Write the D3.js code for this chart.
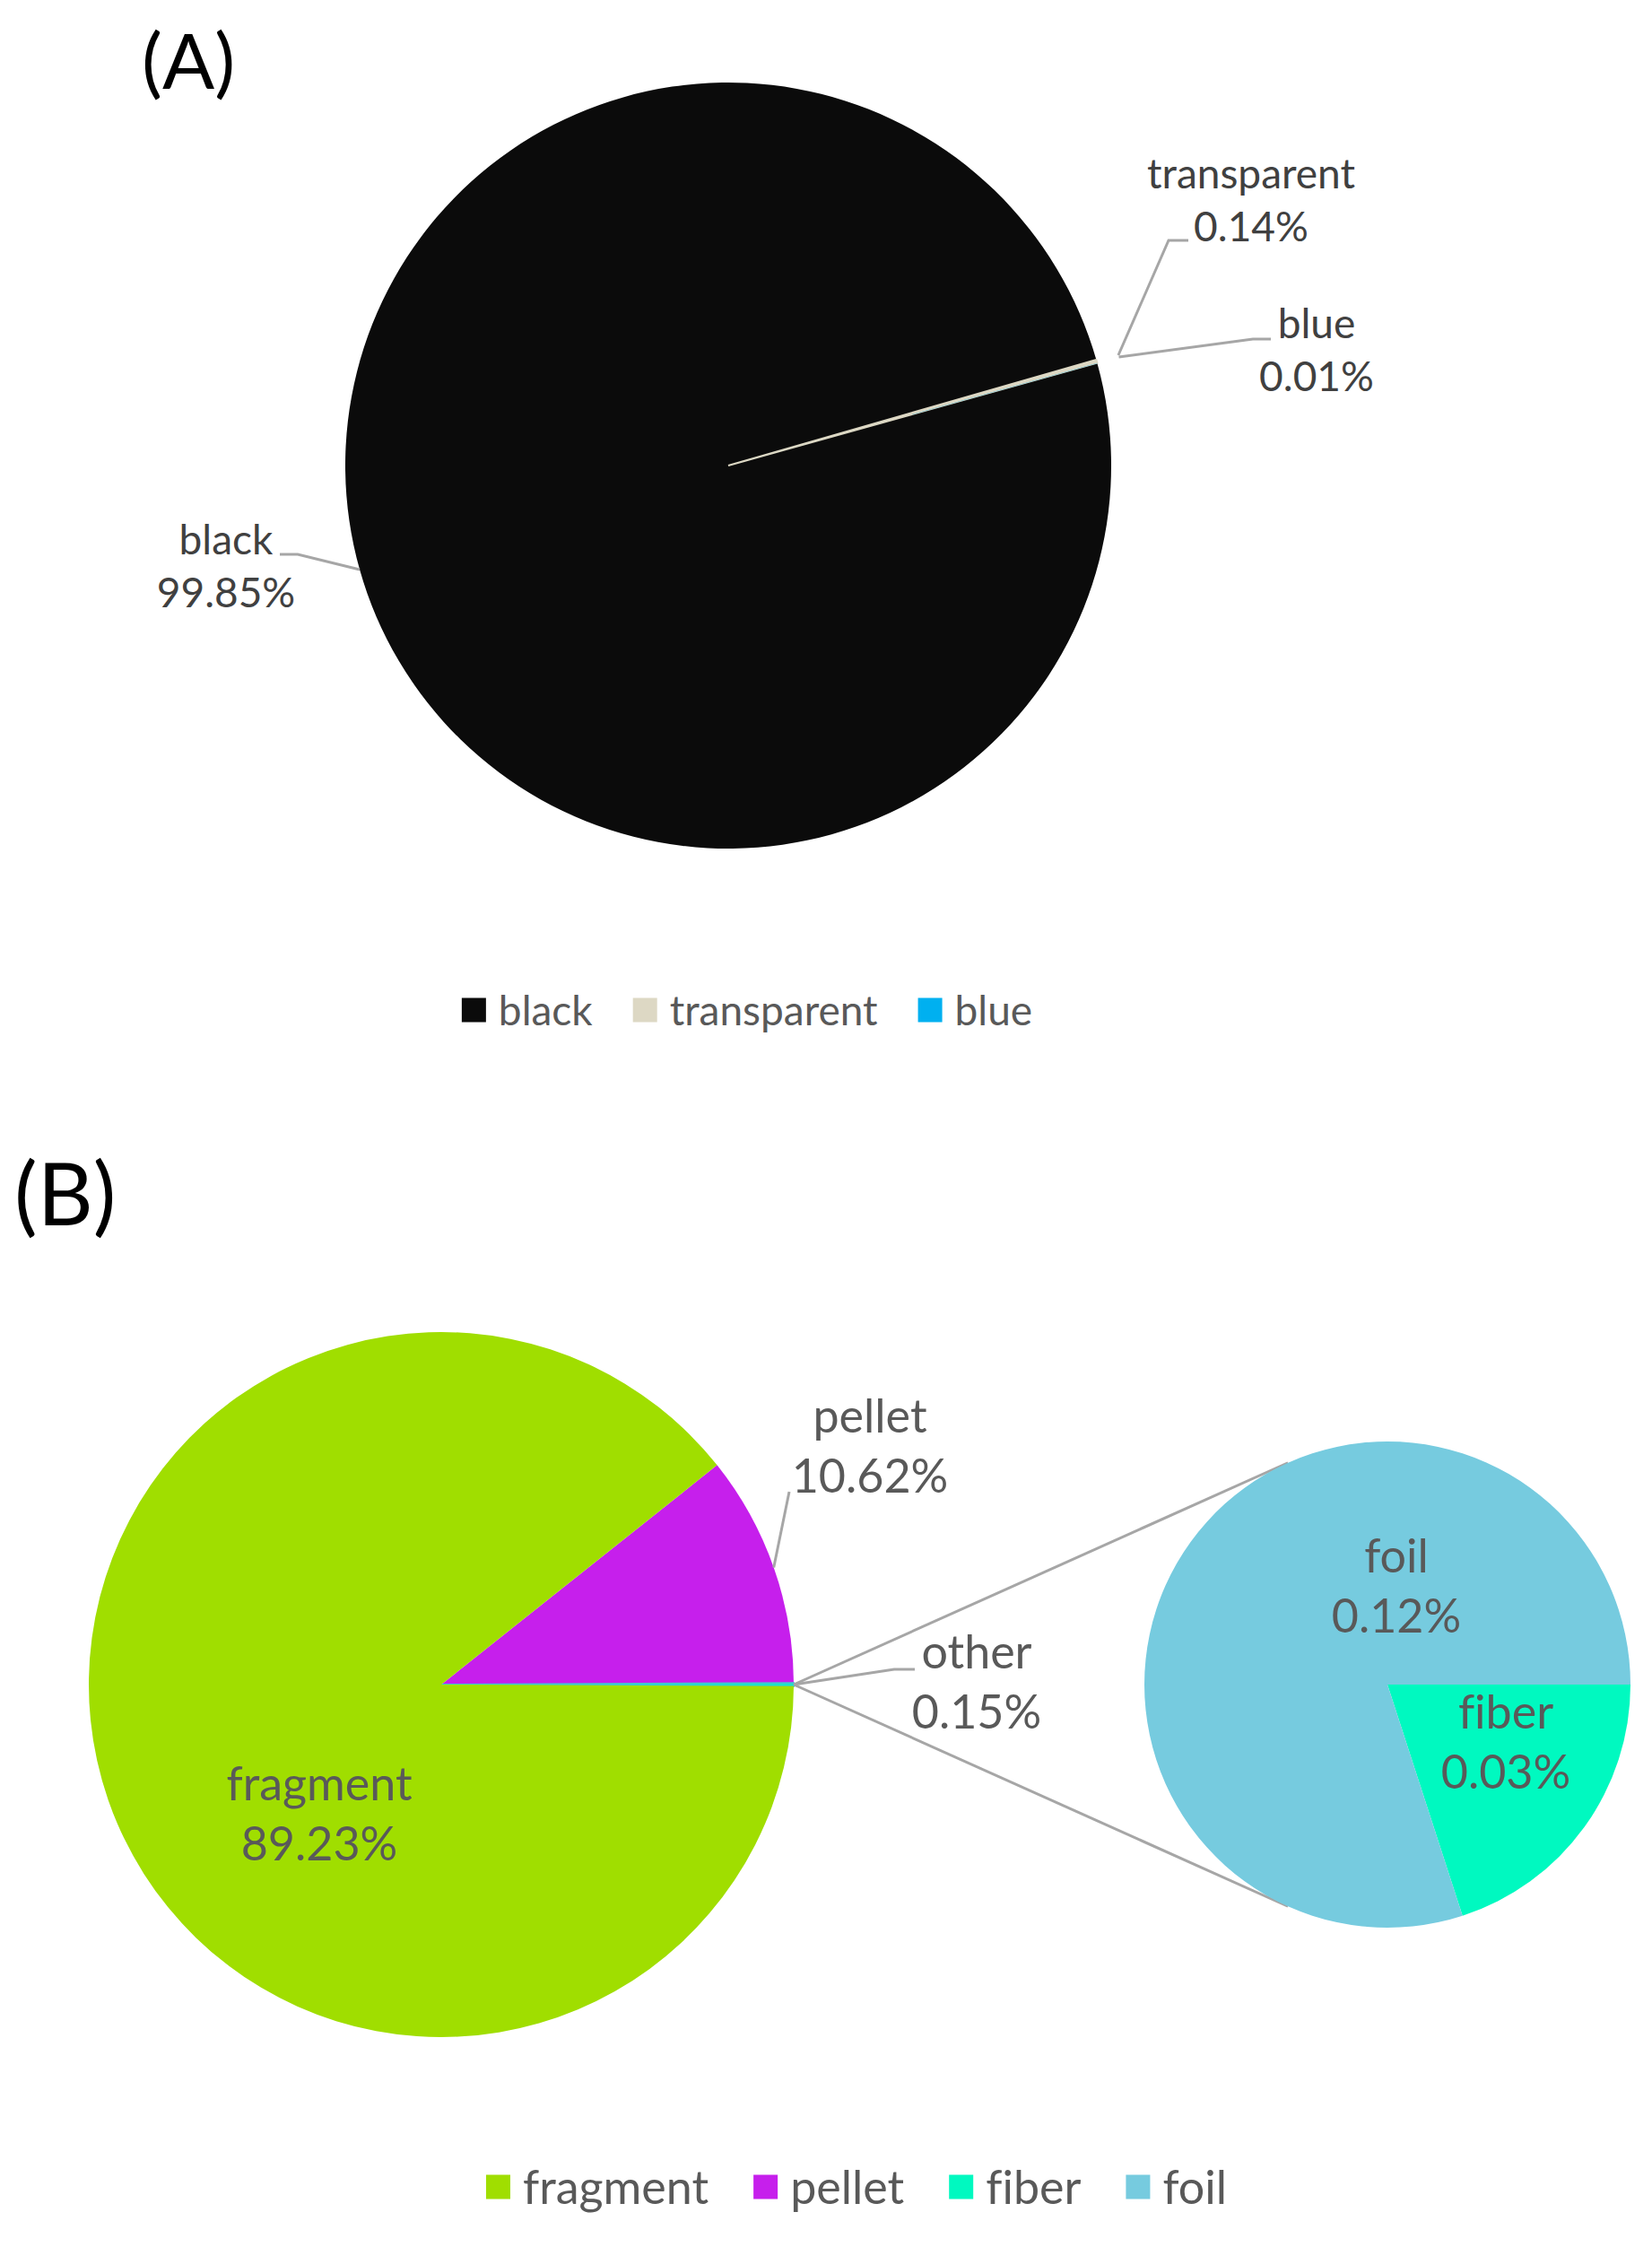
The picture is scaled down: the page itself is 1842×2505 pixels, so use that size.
<!DOCTYPE html>
<html>
<head>
<meta charset="utf-8">
<script src="https://cdnjs.cloudflare.com/ajax/libs/d3/7.8.5/d3.min.js"></script>
<style>
  html, body { margin: 0; padding: 0; background: #fff; }
  svg text { font-family: Lato, "Open Sans", sans-serif; font-variant-ligatures: none; }
</style>
</head>
<body>
<script>
// ---- data ----
var colourNames = ["black", "transparent", "blue"];
var colourShares = [99.85, 0.14, 0.01];

var shapeNames = ["fragment", "pellet", "fiber", "foil"];
var shapeShares = [89.23, 10.62, 0.03, 0.12];
var otherName = "other";
var otherShare = 0.15;   // fiber + foil, split out in the second pie

var palette = {
    black: "#0b0b0b", transparent: "#ddd8c4", blue: "#00b0f0",
    fragment: "#a0de00", pellet: "#c61fec", fiber: "#00f9c0", foil: "#76cbdf"
};

// ---- layout ----
var W = 1842, H = 2505;
var rad = Math.PI / 180;
var A = { cx: 812, cy: 519, r: 427, start: 74.5, font: 46, lh: 59, legendY: 1126, legendX: 833 };
var B = { cx: 492, cy: 1878, r: 393, cx2: 1547, r2: 271, font: 52, lh: 67, legendY: 2438, legendX: 955 };

var spotsA = {
    black:       { x: 252,  y: 618, lead: [[332, 618], [312, 618]], out: 0 },
    transparent: { x: 1395, y: 210, lead: [[1303, 268], [1325, 268]], out: 25 },
    blue:        { x: 1468, y: 377, lead: [[1397, 378], [1417, 378]], out: 25 }
};
var spotsB = {
    pellet:   { x: 970,  y: 1597, lead: [[880, 1663]], out: 0 },
    other:    { x: 1089, y: 1860, lead: [[997, 1861], [1020, 1861]], out: 0 },
    fragment: { x: 356,  y: 2007 },
    foil:     { x: 1557, y: 1753 },
    fiber:    { x: 1679, y: 1927 }
};

var svg = d3.select("body").append("svg")
    .attr("width", W)
    .attr("height", H);

var fmt = function (v) { return v.toFixed(2) + "%"; };

function pointAt(cx, cy, r, a) {
    return [cx + r * Math.sin(a), cy - r * Math.cos(a)];
}

function label(g, spot, name, value, size, lh, colour) {
    var t = g.append("text")
        .attr("text-anchor", "middle")
        .attr("font-size", size)
        .attr("fill", colour);
    t.append("tspan").attr("x", spot.x).attr("y", spot.y).text(name);
    t.append("tspan").attr("x", spot.x).attr("y", spot.y + lh).text(fmt(value));
}

function leader(g, cx, cy, r, slice, spot) {
    var mid = (slice.startAngle + slice.endAngle) / 2;
    var pts = [pointAt(cx, cy, r + spot.out, mid)].concat(spot.lead);
    g.append("path")
        .attr("d", d3.line()(pts))
        .attr("fill", "none")
        .attr("stroke", "#a6a6a6")
        .attr("stroke-width", 3);
}

function legend(g, names, cy, cx, size, sq, gap) {
    var items = g.append("g");
    var x = 0;
    names.forEach(function (n) {
        var it = items.append("g").attr("transform", "translate(" + x + ",0)");
        it.append("rect")
            .attr("x", 0).attr("y", cy - sq / 2)
            .attr("width", sq).attr("height", sq)
            .attr("fill", palette[n]);
        var t = it.append("text")
            .attr("x", sq + 14).attr("y", cy + size * 0.36)
            .attr("font-size", size)
            .attr("fill", "#595959")
            .text(n);
        x += sq + 14 + t.node().getComputedTextLength() + gap;
    });
    var w = x - gap;
    items.attr("transform", "translate(" + (cx - w / 2) + ",0)");
}

// ---- (A) colours ----
var gA = svg.append("g");
gA.append("text")
    .attr("x", 158).attr("y", 99)
    .attr("font-size", 86)
    .attr("fill", "#000")
    .text("(A)");

var pieA = d3.pie().sort(null)
    .startAngle(A.start * rad)
    .endAngle(A.start * rad + 2 * Math.PI);
var arcsA = pieA(colourShares);
var arcA = d3.arc().innerRadius(0).outerRadius(A.r);

gA.append("g")
    .attr("transform", "translate(" + A.cx + "," + A.cy + ")")
    .selectAll("path")
    .data(arcsA)
    .enter().append("path")
    .attr("d", arcA)
    .attr("fill", function (d, i) { return palette[colourNames[i]]; })
    .attr("stroke", function (d, i) { return colourNames[i] === "transparent" ? palette.transparent : "none"; })
    .attr("stroke-width", 2);

arcsA.forEach(function (d, i) {
    var n = colourNames[i];
    leader(gA, A.cx, A.cy, A.r, d, spotsA[n]);
    label(gA, spotsA[n], n, colourShares[i], A.font, A.lh, "#404040");
});
legend(gA, colourNames, A.legendY, A.legendX, A.font, 27, 45);

// ---- (B) shapes, pie of pie ----
var gB = svg.append("g");
gB.append("text")
    .attr("x", 16).attr("y", 1366)
    .attr("font-size", 96)
    .attr("fill", "#000")
    .text("(B)");

var share = function (n) { return shapeShares[shapeNames.indexOf(n)]; };
var mainNames = ["pellet", otherName, "fragment"];
var mainVals = [share("pellet"), otherShare, share("fragment")];
var total = d3.sum(mainVals);
// the "other" slice sits centred on the right, as in the spreadsheet chart
var mainStart = Math.PI / 2 - (mainVals[0] + mainVals[1] / 2) / total * 2 * Math.PI;
var arcsMain = d3.pie().sort(null)
    .startAngle(mainStart)
    .endAngle(mainStart + 2 * Math.PI)(mainVals);

var subNames = ["fiber", "foil"];
var subVals = [share("fiber"), share("foil")];
var arcsSub = d3.pie().sort(null)
    .startAngle(Math.PI / 2)
    .endAngle(Math.PI / 2 + 2 * Math.PI)(subVals);

// connector lines, tangent to the second pie
var p0 = pointAt(B.cx, B.cy, B.r, Math.PI / 2);
var dist = B.cx2 - p0[0];
var alpha = Math.acos(B.r2 / dist);
[-1, 1].forEach(function (s) {
    gB.append("line")
        .attr("x1", p0[0]).attr("y1", p0[1])
        .attr("x2", B.cx2 - B.r2 * Math.cos(alpha))
        .attr("y2", B.cy + s * B.r2 * Math.sin(alpha))
        .attr("stroke", "#a6a6a6")
        .attr("stroke-width", 3);
});

gB.append("g")
    .attr("transform", "translate(" + B.cx + "," + B.cy + ")")
    .selectAll("path")
    .data(arcsMain)
    .enter().append("path")
    .attr("d", d3.arc().innerRadius(0).outerRadius(B.r))
    .attr("fill", function (d, i) {
        return mainNames[i] === otherName ? palette.fiber : palette[mainNames[i]];
    })
    .attr("stroke", function (d, i) { return mainNames[i] === otherName ? "#40c8d0" : "none"; })
    .attr("stroke-width", 2);

gB.append("g")
    .attr("transform", "translate(" + B.cx2 + "," + B.cy + ")")
    .selectAll("path")
    .data(arcsSub)
    .enter().append("path")
    .attr("d", d3.arc().innerRadius(0).outerRadius(B.r2))
    .attr("fill", function (d, i) { return palette[subNames[i]]; });

arcsMain.forEach(function (d, i) {
    var n = mainNames[i];
    if (spotsB[n].lead) leader(gB, B.cx, B.cy, B.r, d, spotsB[n]);
    label(gB, spotsB[n], n, mainVals[i], B.font, B.lh, "#595959");
});
subNames.forEach(function (n, i) {
    label(gB, spotsB[n], n, subVals[i], B.font, B.lh, "#595959");
});
legend(gB, shapeNames, B.legendY, B.legendX, B.font, 27, 50);
</script>
</body>
</html>
